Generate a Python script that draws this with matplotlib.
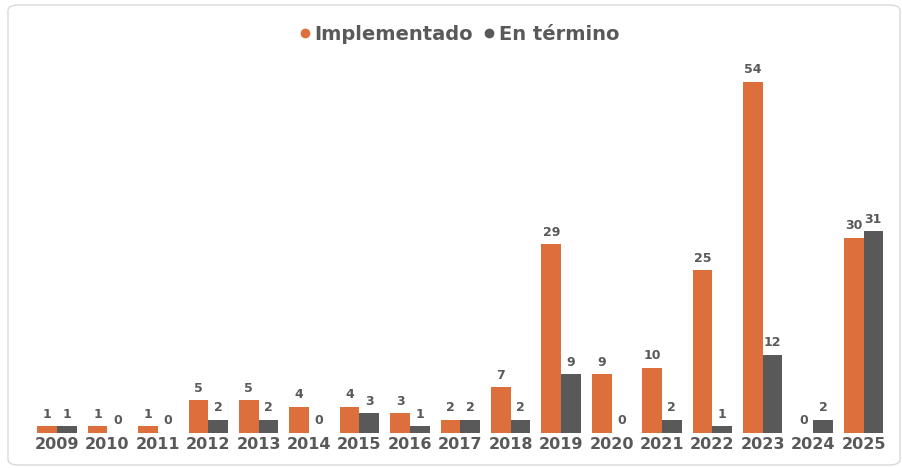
import numpy as np
import matplotlib.pyplot as plt
from matplotlib.patches import FancyBboxPatch
from matplotlib.lines import Line2D

years = ["2009", "2010", "2011", "2012", "2013", "2014", "2015", "2016", "2017",
         "2018", "2019", "2020", "2021", "2022", "2023", "2024", "2025"]
implementado = [1, 1, 1, 5, 5, 4, 4, 3, 2, 7, 29, 9, 10, 25, 54, 0, 30]
en_termino = [1, 0, 0, 2, 2, 0, 3, 1, 2, 2, 9, 0, 2, 1, 12, 2, 31]

orange = "#DC6F3C"
gray = "#595959"
text_col = "#595959"

fig = plt.figure(figsize=(9.02, 4.68), dpi=100)
fig.patches.append(FancyBboxPatch((8 / 902, 3 / 468), 892 / 902, 460 / 468,
                                  boxstyle="round,pad=0,rounding_size=0.012",
                                  transform=fig.transFigure, fill=False,
                                  edgecolor="#D9D9D9", linewidth=1.0))
ax = fig.add_axes([0.0353, 0.0748, 0.950, 0.806])

x = np.arange(len(years))
w = 0.39
b1 = ax.bar(x - w / 2, implementado, w, color=orange, label="Implementado")
b2 = ax.bar(x + w / 2, en_termino, w, color=gray, label="En término")

for bars in (b1, b2):
    for rect in bars:
        h = rect.get_height()
        ax.annotate(f"{int(h)}", (rect.get_x() + rect.get_width() / 2, h),
                    xytext=(0, 4), textcoords="offset points", ha="center", va="bottom",
                    fontsize=9, fontweight="bold", color=text_col)

ax.set_xlim(-0.5, len(years) - 0.5)
ax.set_ylim(0, 58)
ax.set_xticks(x)
ax.set_xticklabels(years, fontsize=11.5, fontweight="bold", color=text_col)
ax.tick_params(axis="x", length=0, pad=3)
ax.set_yticks([])
for s in ax.spines.values():
    s.set_visible(False)

handles = [Line2D([], [], marker="o", linestyle="", color=orange, markersize=6),
           Line2D([], [], marker="o", linestyle="", color=gray, markersize=6)]
fig.legend(handles, ["Implementado", "En término"], loc="center", bbox_to_anchor=(0.509, 0.927),
           ncol=2, frameon=False, handlelength=0.6, handletextpad=0.2, columnspacing=0.5,
           prop={"weight": "bold", "size": 14}, labelcolor=text_col)

fig.savefig("out.png", dpi=100)
